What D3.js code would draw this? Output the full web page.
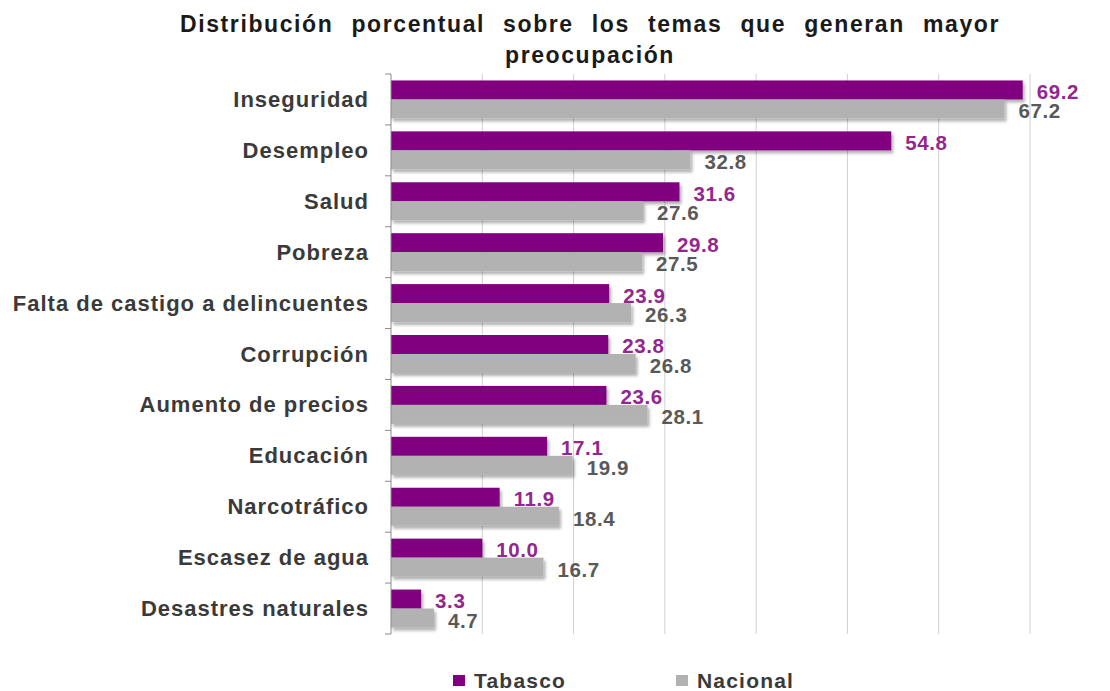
<!DOCTYPE html>
<html><head><meta charset="utf-8">
<script src="https://cdn.jsdelivr.net/npm/d3@7"></script>
<style>
body{margin:0;background:#fff;}
text{font-family:"Liberation Sans",Arial,sans-serif;font-weight:bold;}
</style></head>
<body>
<svg id="c" width="1110" height="691"></svg>
<script>
const categories = ["Inseguridad","Desempleo","Salud","Pobreza","Falta de castigo a delincuentes","Corrupción","Aumento de precios","Educación","Narcotráfico","Escasez de agua","Desastres naturales"];
const seriesNames = ["Tabasco","Nacional"];
const tabasco = [69.2,54.8,31.6,29.8,23.9,23.8,23.6,17.1,11.9,10.0,3.3];
const nacional = [67.2,32.8,27.6,27.5,26.3,26.8,28.1,19.9,18.4,16.7,4.7];
const xTicks = [0,10,20,30,40,50,60,70];
const titleLines = ["Distribución porcentual sobre los temas que generan mayor","preocupación"];

const barColors = {Tabasco:"#800080", Nacional:"#B2B2B2"};
const labelColors = {Tabasco:"#92278F", Nacional:"#595959"};
const seriesValues = {Tabasco:tabasco, Nacional:nacional};

const svg = d3.select("#c");
const defs = svg.append("defs");
const f = defs.append("filter").attr("id","sh").attr("x","-10%").attr("y","-30%").attr("width","130%").attr("height","180%");
f.append("feDropShadow").attr("dx",2).attr("dy",3).attr("stdDeviation",1.8).attr("flood-color","#000").attr("flood-opacity",0.3);

const x = d3.scaleLinear().domain([0,70]).range([391,1030]);
const y = d3.scaleBand().domain(categories).range([74,634]).padding(0);
const yg = d3.scaleBand().domain(seriesNames).range([0,y.bandwidth()]).paddingInner(0).paddingOuter(0.34);

// gridlines
svg.append("g").selectAll("line").data(xTicks.filter(d=>d>0)).join("line")
  .attr("x1",d=>x(d)).attr("x2",d=>x(d)).attr("y1",74).attr("y2",634)
  .attr("stroke","#d0d0d0").attr("stroke-width",1);

// bars
const groups = svg.append("g").selectAll("g").data(categories).join("g")
  .attr("transform",d=>`translate(0,${y(d)})`);
seriesNames.forEach(s=>{
  groups.append("rect")
    .attr("x",x(0))
    .attr("y",yg(s))
    .attr("width",(d,i)=>x(seriesValues[s][i])-x(0))
    .attr("height",yg.bandwidth())
    .attr("fill",barColors[s])
    .attr("filter","url(#sh)");
});
seriesNames.forEach(s=>{
  groups.append("text")
    .attr("x",(d,i)=>x(seriesValues[s][i])+14)
    .attr("y",yg(s)+yg.bandwidth()/2+(s==="Tabasco"?1.5:2))
    .attr("dominant-baseline","central")
    .attr("font-size",20.5)
    .attr("letter-spacing",0.6)
    .attr("fill",labelColors[s])
    .text((d,i)=>seriesValues[s][i].toFixed(1));
});

// y axis
const ag = svg.append("g").attr("transform",`translate(${x(0)},0)`);
ag.append("line").attr("x1",0).attr("x2",0).attr("y1",74).attr("y2",634).attr("stroke","#8c8c8c");
ag.selectAll("line.t").data(d3.range(categories.length+1)).join("line").attr("class","t")
  .attr("x1",-6).attr("x2",0)
  .attr("y1",i=>74+i*y.step()).attr("y2",i=>74+i*y.step())
  .attr("stroke","#8c8c8c");

// category labels
svg.append("g").selectAll("text").data(categories).join("text")
  .attr("x",369).attr("y",d=>y(d)+y.bandwidth()/2)
  .attr("text-anchor","end").attr("dominant-baseline","central")
  .attr("font-size",22).attr("letter-spacing",1)
  .attr("fill","#3a3a3a").text(d=>d);

// title
const t1 = svg.append("text").attr("x",590).attr("y",32).attr("text-anchor","middle")
  .attr("font-size",23).attr("letter-spacing",1.6).attr("fill","#1a1a1a").text(titleLines[0]);
const len = t1.node().getComputedTextLength();
const nSpaces = titleLines[0].split(" ").length-1;
t1.attr("word-spacing",Math.max(0,(820-len)/nSpaces));
svg.append("text").attr("x",590).attr("y",63).attr("text-anchor","middle")
  .attr("font-size",23).attr("letter-spacing",1.6).attr("fill","#1a1a1a").text(titleLines[1]);

// legend
const legX = {Tabasco:453, Nacional:676};
const lg = svg.append("g").selectAll("g").data(seriesNames).join("g")
  .attr("transform",d=>`translate(${legX[d]},675)`);
lg.append("rect").attr("width",12).attr("height",11).attr("fill",d=>barColors[d]);
lg.append("text").attr("x",21).attr("y",5).attr("dominant-baseline","central")
  .attr("font-size",21).attr("letter-spacing",1.2).attr("fill","#3a3a3a").text(d=>d);
</script>
</body></html>
